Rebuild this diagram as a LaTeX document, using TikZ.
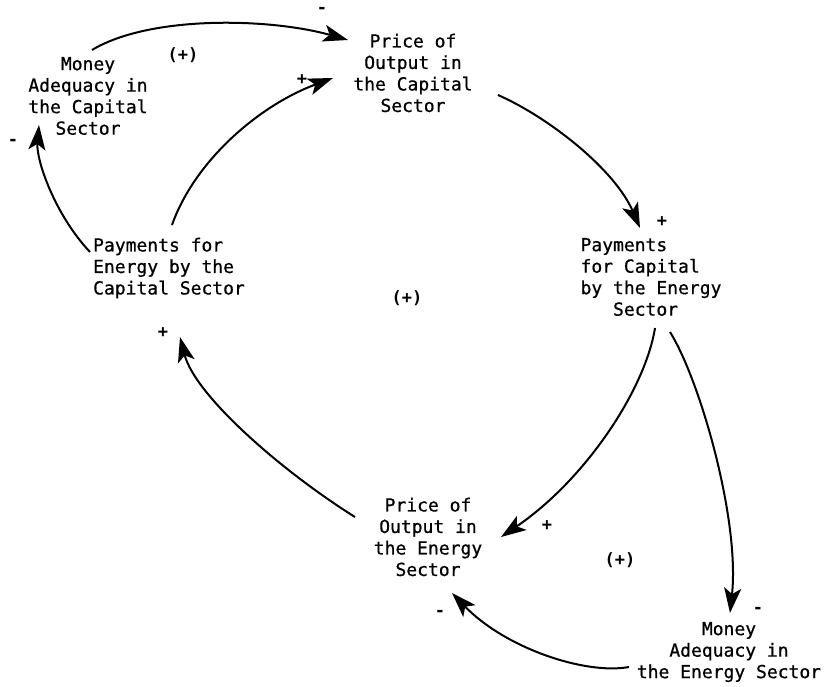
\documentclass[tikz,border=0pt]{standalone}
\usepackage{fontspec}
\setmonofont{DejaVu Sans Mono}
\newfontfamily\twfont[FakeBold=0.7]{DejaVu Sans Mono}
\usetikzlibrary{arrows.meta}
\begin{document}
\begin{tikzpicture}[x=1pt,y=-1pt,
  txt/.style={font=\twfont\fontsize{18}{21.5}\selectfont,inner sep=0pt,align=center},
  txtl/.style={txt,align=left},
  sgn/.style={font=\ttfamily\bfseries\fontsize{17}{18}\selectfont,inner sep=0pt},
  arr/.style={line width=2pt,-{Stealth[length=25pt,width=17pt,inset=6pt]}}]
\useasboundingbox[fill=white] (0,0) rectangle (829,687);
% nodes
\node[txt] (mac) at (88,96) {Money\\Adequacy in\\the Capital\\Sector};
\node[txt] (poc) at (413,73) {Price of\\Output in\\the Capital\\Sector};
\node[txtl] (pce) at (651,277) {Payments\\for Capital\\by the Energy\\\phantom{xxx}Sector};
\node[txtl] (pec) at (169,268) {Payments for\\Energy by the\\Capital Sector};
\node[txt] (poe) at (428,537) {Price of\\Output in\\the Energy\\Sector};
\node[txt] (mae) at (729,652) {Money\\Adequacy in\\the Energy Sector};
% connectors
\draw[arr] ([shift={(4,-46)}]mac.center) .. controls (150,15) and (270,18) .. ([shift={(-65,-33)}]poc.center);
\draw[arr] ([shift={(3,-43)}]pec.center) .. controls (195,160) and (260,105) .. ([shift={(-80,5)}]poc.center);
\draw[arr] ([shift={(-79,-16)}]pec.center) .. controls (55,215) and (36,160) .. ([shift={(-49,29)}]mac.center);
\draw[arr] ([shift={(85,22)}]poc.center) .. controls (550,118) and (615,170) .. ([shift={(-11,-49)}]pce.center);
\draw[arr] ([shift={(4,51)}]pce.center) .. controls (645,390) and (585,480) .. ([shift={(73,0)}]poe.center);
\draw[arr] ([shift={(19,55)}]pce.center) .. controls (700,380) and (740,520) .. ([shift={(1,-39)}]mae.center);
\draw[arr] ([shift={(-100,15)}]mae.center) .. controls (585,675) and (505,648) .. ([shift={(24,56)}]poe.center);
\draw[arr] ([shift={(-73,-20)}]poe.center) .. controls (280,470) and (195,395) .. ([shift={(11,69)}]pec.center);
% polarity labels
\node[sgn] (l1) at (183,55) {(+)};
\node[sgn] (l2) at (322,10) {-};
\node[sgn] (l3) at (302,80) {+};
\node[sgn] (l4) at (13,142) {-};
\node[sgn] (l5) at (662,222) {+};
\node[sgn] (l6) at (407,298) {(+)};
\node[sgn] (l7) at (163,333) {+};
\node[sgn] (l8) at (547,526) {+};
\node[sgn] (l9) at (620,560) {(+)};
\node[sgn] (l10) at (758,610) {-};
\node[sgn] (l11) at (440,613) {-};
\end{tikzpicture}
\end{document}
